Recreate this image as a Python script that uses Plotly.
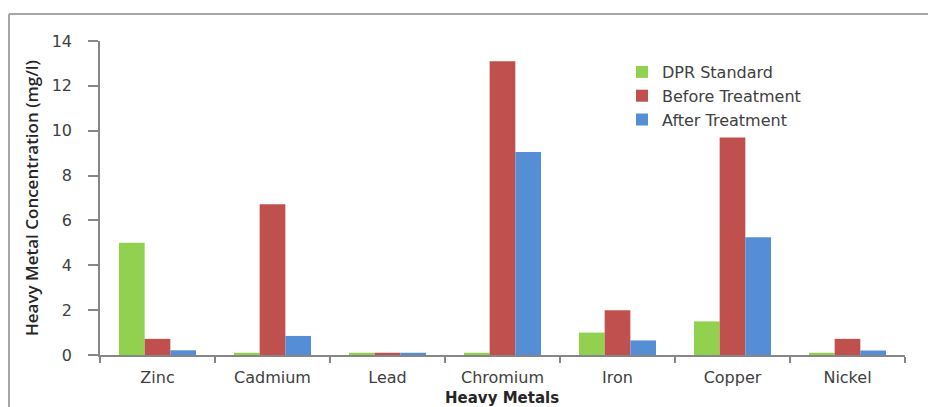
import plotly.graph_objects as go

metals = ["Zinc", "Cadmium", "Lead", "Chromium", "Iron", "Copper", "Nickel"]
dpr_standard = [5.0, 0.1, 0.1, 0.1, 1.0, 1.5, 0.1]
before_treatment = [0.72, 6.72, 0.1, 13.1, 2.0, 9.7, 0.72]
after_treatment = [0.21, 0.85, 0.1, 9.05, 0.65, 5.25, 0.2]
y_ticks = [0, 2, 4, 6, 8, 10, 12, 14]

# page geometry (browser body has an 8px margin, so the figure is offset)
OFF = 8
PAGE_W, PAGE_H = 936, 407
W, H = PAGE_W - OFF, PAGE_H - OFF
# plot area in page pixels: x 100..905, y 41..355
L, R, T, B = 100 - OFF, PAGE_W - 905, 41 - OFF, PAGE_H - 355
pw = W - L - R
ph = H - T - B


def px_x(x):
    """page x pixel -> paper coordinate"""
    return (x - OFF - L) / pw


def px_y(y):
    """page y pixel -> paper coordinate"""
    return (H - B - (y - OFF)) / ph


fig = go.Figure()
fig.add_trace(go.Bar(name="DPR Standard", x=metals, y=dpr_standard, marker_color="#92D050",
                     marker_line_width=0))
fig.add_trace(go.Bar(name="Before Treatment", x=metals, y=before_treatment, marker_color="#C0504D",
                     marker_line_width=0))
fig.add_trace(go.Bar(name="After Treatment", x=metals, y=after_treatment, marker_color="#558ED5",
                     marker_line_width=0))

axis_col = "#868686"

fig.update_layout(
    width=W, height=H,
    margin=dict(l=L, r=R, t=T, b=B, autoexpand=False),
    paper_bgcolor="white", plot_bgcolor="white",
    barmode="group", bargap=0.33, bargroupgap=0,
    showlegend=True,
    legend=dict(x=px_x(622), y=px_y(55), xanchor="left", yanchor="top",
                font=dict(family="DejaVu Sans", size=16, color="#404040"),
                bgcolor="rgba(0,0,0,0)"),
    xaxis=dict(showline=True, linecolor=axis_col, linewidth=1.5, ticks="outside",
               tickson="boundaries", ticklen=6, tickcolor=axis_col, tickwidth=1.5,
               tickfont=dict(family="DejaVu Sans", size=16, color="#404040"),
               showgrid=False, zeroline=False, ticklabelstandoff=7, automargin=False),
    yaxis=dict(range=[0, 14], tickvals=y_ticks, showline=True, linecolor=axis_col,
               linewidth=1.5, ticks="outside", ticklen=10, tickcolor=axis_col, tickwidth=1.5,
               tickfont=dict(family="DejaVu Sans", size=16, color="#404040"),
               showgrid=False, zeroline=False, ticklabelstandoff=13, automargin=False),
    annotations=[
        dict(text="Heavy Metal Concentration (mg/l)", textangle=-90, xref="paper", yref="paper",
             x=px_x(31), y=px_y(198), xanchor="center", yanchor="middle", showarrow=False,
             font=dict(family="Open Sans", size=17, color="#262626", weight=600)),
        dict(text="Heavy Metals", xref="paper", yref="paper",
             x=px_x(502), y=px_y(398), xanchor="center", yanchor="middle", showarrow=False,
             font=dict(family="DejaVu Sans", size=15, color="#262626", weight="bold")),
    ],
    shapes=[
        dict(type="line", xref="paper", yref="paper", x0=px_x(9), x1=px_x(945),
             y0=px_y(14), y1=px_y(14), line=dict(color="#A6A6A6", width=2)),
        dict(type="line", xref="paper", yref="paper", x0=px_x(9), x1=px_x(9),
             y0=px_y(14), y1=px_y(415), line=dict(color="#A6A6A6", width=2)),
    ],
)

fig.write_html("out.html")
